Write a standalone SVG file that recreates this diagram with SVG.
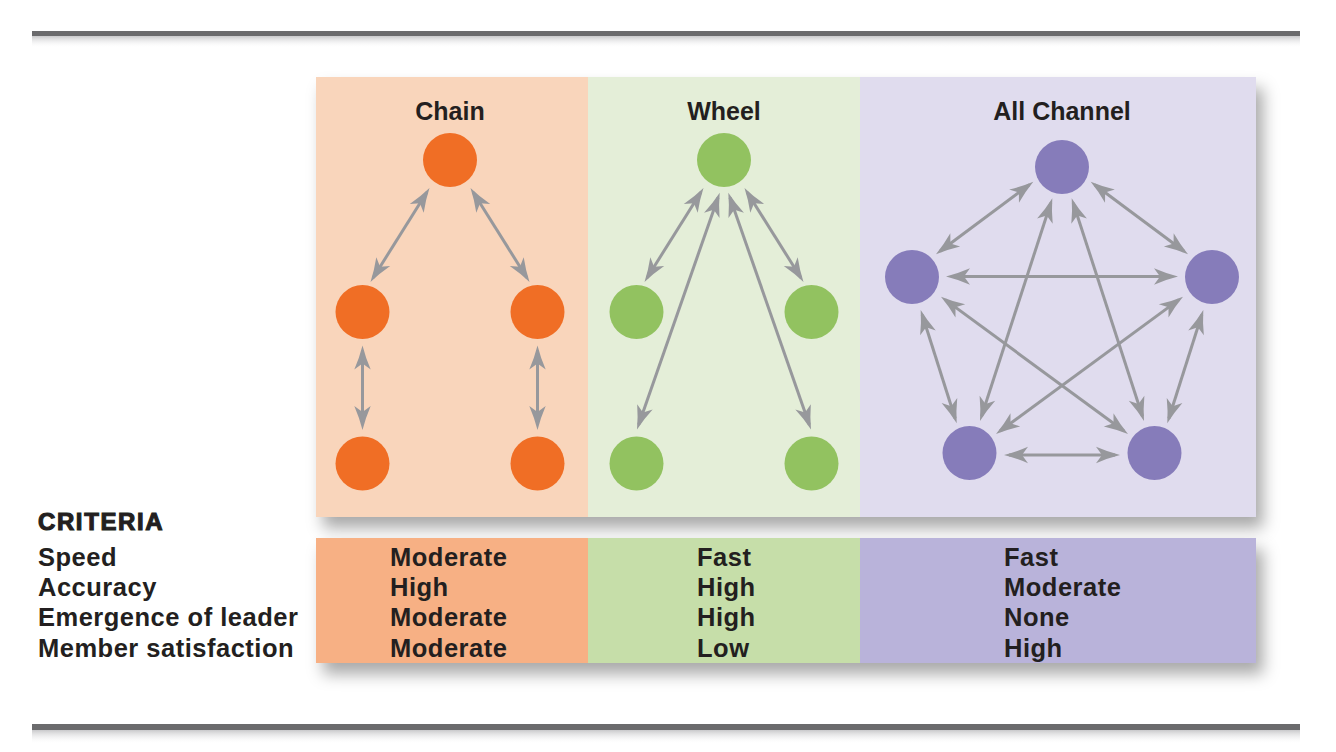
<svg xmlns="http://www.w3.org/2000/svg" width="1336" height="752" viewBox="0 0 1336 752">
<style>
.title{font-family:"Liberation Sans",Arial,sans-serif;font-weight:bold;font-size:25px;fill:#231f20;text-anchor:middle}
.val{font-family:"Liberation Sans",Arial,sans-serif;font-weight:bold;font-size:25.5px;letter-spacing:0.5px;fill:#231f20}
.crit{font-family:"Liberation Sans",Arial,sans-serif;font-weight:bold;font-size:24px;letter-spacing:1.6px;fill:#231f20;stroke:#231f20;stroke-width:1.1}
.conn line{stroke:#97989c;stroke-width:3;fill:none;marker-start:url(#ah);marker-end:url(#ah)}
.chain{fill:#f06e25}
.wheel{fill:#92c260}
.allc{fill:#867cba}
</style>
<defs>
<marker id="ah" markerUnits="userSpaceOnUse" viewBox="-20 -9 26 18" markerWidth="26" markerHeight="18" refX="0" refY="0" orient="auto-start-reverse">
<path d="M5,0 Q-7,-3 -19,-8.2 L-13,0 L-19,8.2 Q-7,3 5,0 Z" fill="#97989c"/>
</marker>
<filter id="sh" x="-10%" y="-15%" width="125%" height="150%">
<feGaussianBlur in="SourceAlpha" stdDeviation="8"/>
<feOffset dx="7" dy="11" result="b"/>
<feFlood flood-color="#000" flood-opacity="0.34"/>
<feComposite in2="b" operator="in"/>
<feMerge><feMergeNode/><feMergeNode in="SourceGraphic"/></feMerge>
</filter>
<linearGradient id="gdown" x1="0" y1="0" x2="0" y2="1">
<stop offset="0" stop-color="#c9c9cb"/>
<stop offset="1" stop-color="#ffffff" stop-opacity="0"/>
</linearGradient>
</defs>
<rect width="1336" height="752" fill="#ffffff"/>
<!-- rules -->
<rect x="32" y="36" width="1268" height="12" fill="url(#gdown)"/>
<rect x="32" y="31" width="1268" height="5" fill="#6b6b6d"/>
<rect x="32" y="730" width="1268" height="14" fill="url(#gdown)"/>
<rect x="32" y="724" width="1268" height="6" fill="#6b6b6d"/>
<!-- panels -->
<g id="panels">
<rect x="316" y="77" width="940" height="440" fill="#ffffff" filter="url(#sh)"/>
<rect x="316" y="77" width="272" height="440" fill="#f9d5bb"/>
<rect x="588" y="77" width="272" height="440" fill="#e4eed8"/>
<rect x="860" y="77" width="396" height="440" fill="#e0dcee"/>
</g>
<g id="table">
<rect x="316" y="538" width="940" height="125" fill="#ffffff" filter="url(#sh)"/>
<rect x="316" y="538" width="272" height="125" fill="#f7b084"/>
<rect x="588" y="538" width="272" height="125" fill="#c6dea9"/>
<rect x="860" y="538" width="396" height="125" fill="#b9b3da"/>
</g>
<!-- titles -->
<text class="title" x="450" y="119.5">Chain</text>
<text class="title" x="724" y="119.5">Wheel</text>
<text class="title" x="1062" y="119.5">All Channel</text>
<!-- connectors -->
<g id="connectors" class="conn">
<line x1="426.84" y1="192.23" x2="373.16" y2="277.77"/>
<line x1="473.16" y1="192.23" x2="526.84" y2="277.77"/>
<line x1="362.5" y1="350.5" x2="362.5" y2="425"/>
<line x1="537.5" y1="350.5" x2="537.5" y2="425"/>
<line x1="700.84" y1="192.23" x2="647.16" y2="277.77"/>
<line x1="747.16" y1="192.23" x2="800.84" y2="277.77"/>
<line x1="718.05" y1="197.42" x2="638.65" y2="424.78"/>
<line x1="729.95" y1="197.42" x2="809.35" y2="424.78"/>
<line x1="1029.3" y1="184.7" x2="940.0" y2="251.3"/>
<line x1="1094.7" y1="184.7" x2="1184.0" y2="251.3"/>
<line x1="951" y1="276.5" x2="1173" y2="276.5"/>
<line x1="1050.76" y1="203.06" x2="981.54" y2="416.24"/>
<line x1="1073.24" y1="203.06" x2="1142.46" y2="416.24"/>
<line x1="945.03" y1="299.66" x2="1123.97" y2="431.04"/>
<line x1="1178.97" y1="299.66" x2="1000.03" y2="431.04"/>
<line x1="922.21" y1="314.76" x2="955.19" y2="418.54"/>
<line x1="1201.79" y1="314.76" x2="1168.81" y2="418.54"/>
<line x1="1009" y1="455" x2="1115" y2="455"/>
</g>
<!-- nodes -->
<g id="chain-top"><circle class="chain" cx="450" cy="160" r="27"/></g>
<g id="chain-mid-left"><circle class="chain" cx="362.5" cy="312" r="27"/></g>
<g id="chain-mid-right"><circle class="chain" cx="537.5" cy="312" r="27"/></g>
<g id="chain-bottom-left"><circle class="chain" cx="362.5" cy="463.5" r="27"/></g>
<g id="chain-bottom-right"><circle class="chain" cx="537.5" cy="463.5" r="27"/></g>
<g id="wheel-top"><circle class="wheel" cx="724" cy="160" r="27"/></g>
<g id="wheel-mid-left"><circle class="wheel" cx="636.5" cy="312" r="27"/></g>
<g id="wheel-mid-right"><circle class="wheel" cx="811.5" cy="312" r="27"/></g>
<g id="wheel-bottom-left"><circle class="wheel" cx="636.5" cy="463.5" r="27"/></g>
<g id="wheel-bottom-right"><circle class="wheel" cx="811.5" cy="463.5" r="27"/></g>
<g id="all-top"><circle class="allc" cx="1062" cy="167" r="27"/></g>
<g id="all-left"><circle class="allc" cx="912" cy="277" r="27"/></g>
<g id="all-right"><circle class="allc" cx="1212" cy="277" r="27"/></g>
<g id="all-bottom-left"><circle class="allc" cx="969.5" cy="453" r="27"/></g>
<g id="all-bottom-right"><circle class="allc" cx="1154.5" cy="453" r="27"/></g>
<!-- criteria -->
<text class="crit" x="38" y="530">CRITERIA</text>
<g id="criteria-labels">
<text class="val" x="38" y="566">Speed</text>
<text class="val" x="38" y="596">Accuracy</text>
<text class="val" x="38" y="626.3">Emergence of leader</text>
<text class="val" x="38" y="656.5">Member satisfaction</text>
</g>
<g id="chain-values">
<text class="val" x="390" y="566">Moderate</text>
<text class="val" x="390" y="596">High</text>
<text class="val" x="390" y="626.3">Moderate</text>
<text class="val" x="390" y="656.5">Moderate</text>
</g>
<g id="wheel-values">
<text class="val" x="697" y="566">Fast</text>
<text class="val" x="697" y="596">High</text>
<text class="val" x="697" y="626.3">High</text>
<text class="val" x="697" y="656.5">Low</text>
</g>
<g id="all-values">
<text class="val" x="1004" y="566">Fast</text>
<text class="val" x="1004" y="596">Moderate</text>
<text class="val" x="1004" y="626.3">None</text>
<text class="val" x="1004" y="656.5">High</text>
</g>
</svg>
